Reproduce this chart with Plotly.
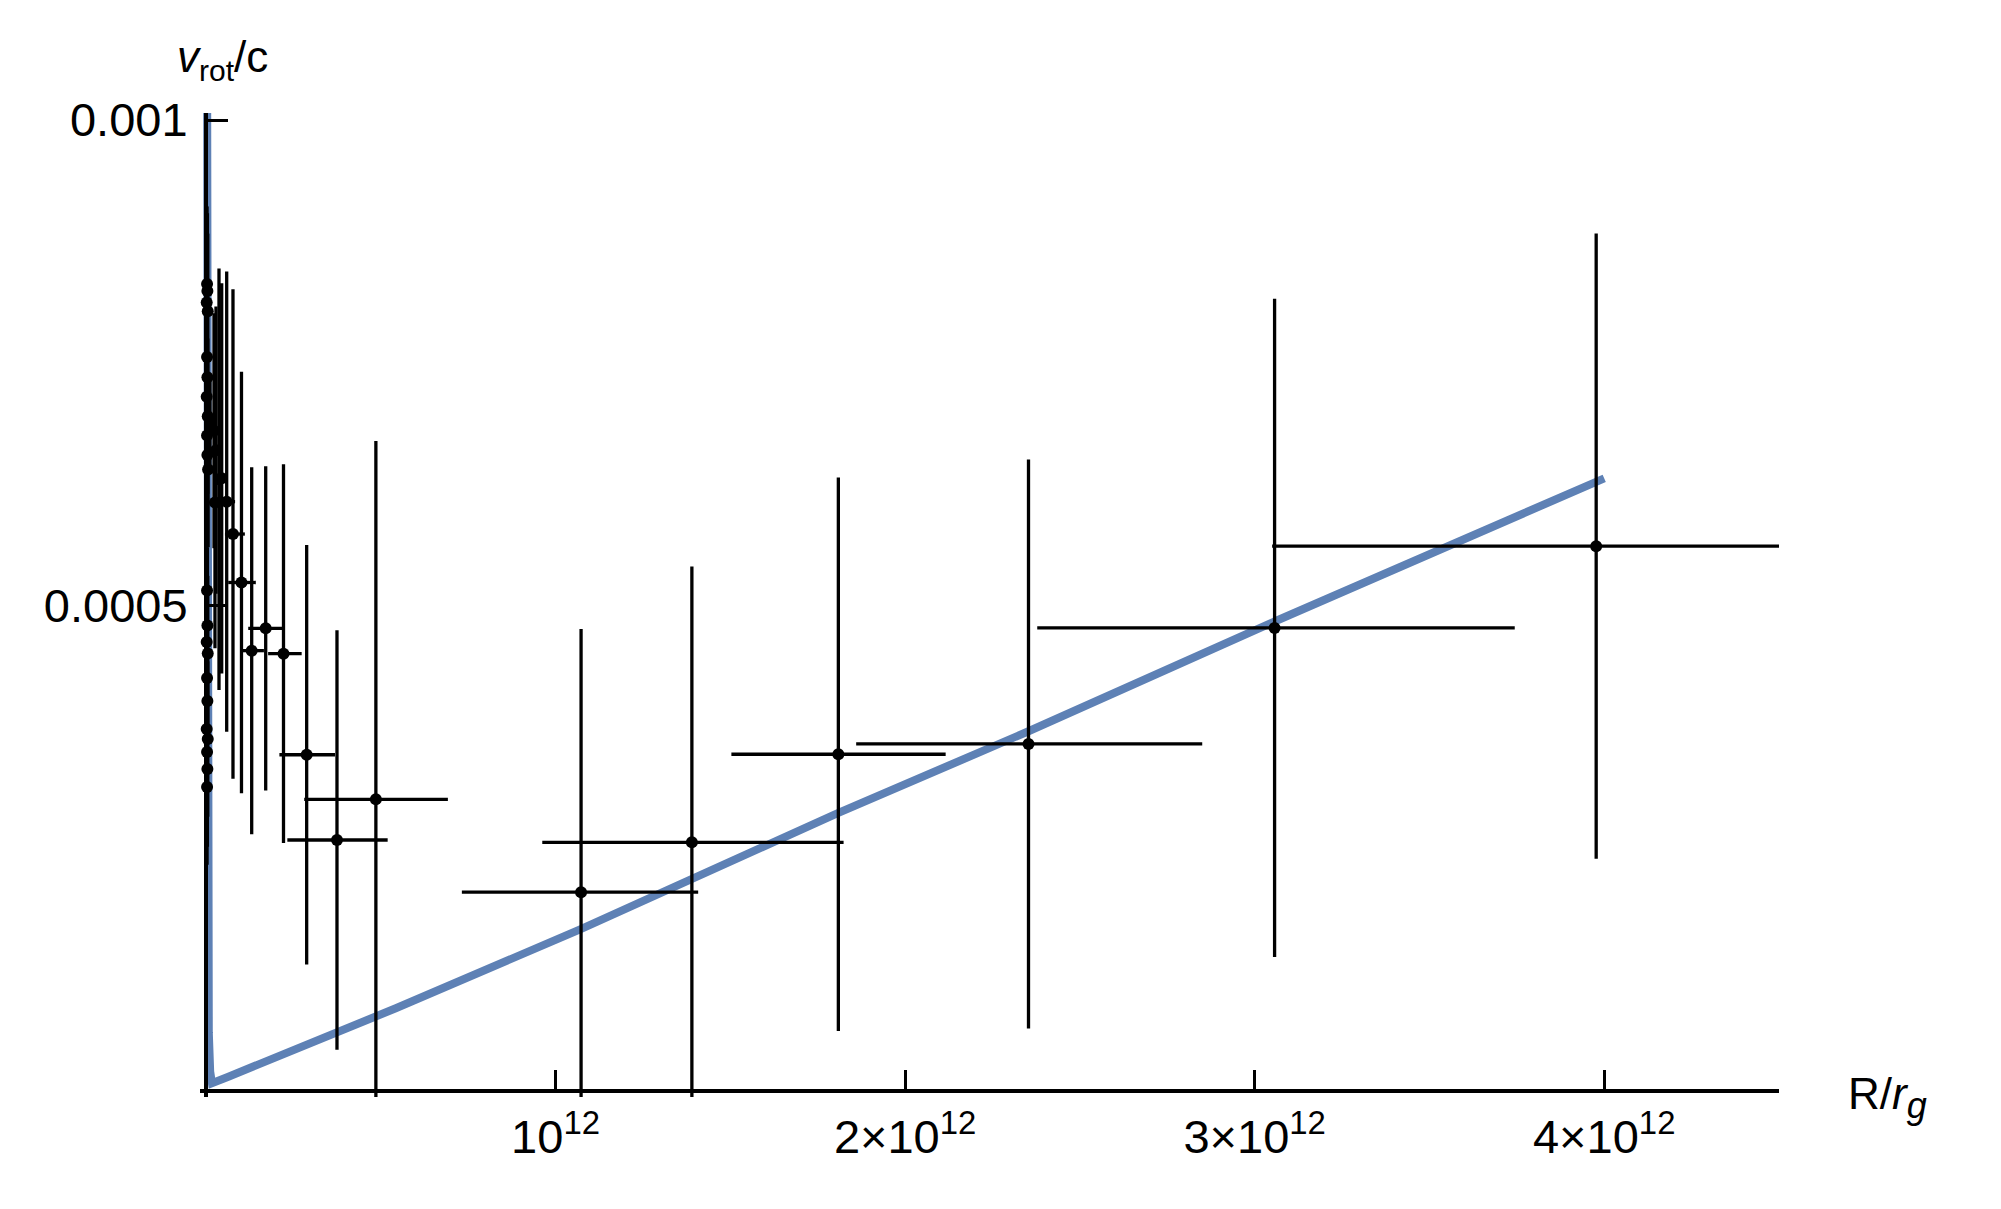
import plotly.graph_objects as go

# ---------------- data ----------------
# radius in units of 1e12 r_g, velocity in units of 1e-3 c
R_1E12 = [
    0.003, 0.004, 0.002, 0.005, 0.003, 0.004, 0.002, 0.005, 0.003, 0.004, 0.006,
    0.003, 0.004, 0.002, 0.005, 0.003, 0.004, 0.002, 0.005, 0.003, 0.004, 0.003,
    0.0114, 0.0229, 0.0286, 0.0257, 0.0372, 0.0449, 0.0592, 0.0772, 0.1015, 0.1307,
    0.1708, 0.2217, 0.288, 0.3747, 0.486,
    1.073, 1.390, 1.809, 2.353, 3.057, 3.977,
]
V_1E3 = [
    0.831, 0.824, 0.812, 0.803, 0.756, 0.735, 0.715, 0.695, 0.675, 0.655, 0.640,
    0.5155, 0.4795, 0.4625, 0.4505, 0.4253, 0.4016, 0.3727, 0.3625, 0.3491, 0.3316, 0.3130,
    0.69, 0.68, 0.66, 0.606, 0.630, 0.631, 0.6069, 0.5736, 0.5237, 0.4535,
    0.4765, 0.4504, 0.3463, 0.2585, 0.3004,
    0.2048, 0.2561, 0.3468, 0.3574, 0.4769, 0.5611,
]
R_ERR_MINUS = [
    0.001, 0.001, 0.001, 0.001, 0.001, 0.001, 0.001, 0.001, 0.001, 0.001, 0.001,
    0.001, 0.001, 0.001, 0.001, 0.001, 0.001, 0.001, 0.001, 0.001, 0.001, 0.001,
    0.006, 0.008, 0.008, 0.012, 0.010, 0.010, 0.025, 0.023, 0.038, 0.033,
    0.050, 0.044, 0.078, 0.142, 0.205,
    0.341, 0.428, 0.306, 0.493, 0.679, 0.927,
]
R_ERR_PLUS = [
    0.001, 0.001, 0.001, 0.001, 0.001, 0.001, 0.001, 0.001, 0.001, 0.001, 0.001,
    0.001, 0.001, 0.001, 0.001, 0.001, 0.001, 0.001, 0.001, 0.001, 0.001, 0.001,
    0.006, 0.008, 0.008, 0.012, 0.010, 0.010, 0.024, 0.034, 0.041, 0.035,
    0.047, 0.052, 0.081, 0.145, 0.206,
    0.335, 0.434, 0.307, 0.497, 0.687, 0.927,
]
V_ERR = [
    0.08, 0.08, 0.08, 0.08, 0.08, 0.08, 0.08, 0.08, 0.08, 0.08, 0.08,
    0.08, 0.08, 0.08, 0.08, 0.08, 0.08, 0.08, 0.08, 0.08, 0.08, 0.08,
    0.046, 0.121, 0.148, 0.150, 0.217, 0.201, 0.237, 0.252, 0.217, 0.189,
    0.167, 0.195, 0.216, 0.216, 0.369,
    0.271, 0.284, 0.285, 0.293, 0.339, 0.322,
]

# model curve
MODEL_R_1E12 = [0.0025, 0.004, 0.008, 0.012, 0.017, 0.064, 0.543, 1.072, 1.809, 2.353, 3.057, 4.0]
MODEL_V_1E3 = [1.2, 0.35, 0.06, 0.02, 0.008, 0.0147, 0.0852, 0.1667, 0.2864, 0.3705, 0.4835, 0.631]

X_TICK_VALS_1E12 = [1, 2, 3, 4]
X_TICK_TEXT = ["10<sup>12</sup>", "2×10<sup>12</sup>", "3×10<sup>12</sup>", "4×10<sup>12</sup>"]
Y_TICK_VALS = [0.0005, 0.001]
Y_TICK_TEXT = ["0.0005", "0.001"]

# ---------------- figure ----------------
FONT = "Liberation Sans, Arial, sans-serif"
BLUE = "#5E81B5"

x = [r * 1e12 for r in R_1E12]
y = [v * 1e-3 for v in V_1E3]
xm = [e * 1e12 for e in R_ERR_MINUS]
xp = [e * 1e12 for e in R_ERR_PLUS]
ye = [e * 1e-3 for e in V_ERR]

fig = go.Figure()
fig.add_trace(go.Scatter(
    x=[r * 1e12 for r in MODEL_R_1E12],
    y=[v * 1e-3 for v in MODEL_V_1E3],
    mode="lines",
    line=dict(color=BLUE, width=8),
    hoverinfo="skip",
))
fig.add_trace(go.Scatter(
    x=x, y=y, mode="markers",
    marker=dict(color="black", size=12),
    error_x=dict(type="data", symmetric=False, array=xp, arrayminus=xm,
                 color="black", thickness=3.3, width=0),
    error_y=dict(type="data", array=ye, color="black", thickness=3.3, width=0),
))

# page geometry (the html body adds an 8px offset)
OFF = 8
PAGE_W, PAGE_H = 2001, 1209
W, H = PAGE_W - OFF, PAGE_H - OFF
PL, PR, PT, PB = 200, 1779, 113, 1097          # plot area in page pixels
L, Rm, T, B = PL - OFF, PAGE_W - PR, PT - OFF, PAGE_H - PB
plot_w = PR - PL
plot_h = PB - PT
x0px = 206
xscale = 349.6  # px per 1e12
y0px = 1091
xmin = (PL - x0px) / xscale * 1e12
ymax = (y0px - PT) / 971 * 1e-3
ymin = (y0px - PB) / 971 * 1e-3


def px(xp_):
    return (xp_ - PL) / plot_w


def py(yp_):
    return (PB - yp_) / plot_h


fig.update_layout(
    width=W, height=H,
    margin=dict(l=L, r=Rm, t=T, b=B, pad=0),
    paper_bgcolor="white", plot_bgcolor="white",
    showlegend=False,
    font=dict(family=FONT, color="black"),
    xaxis=dict(
        range=[xmin, 4.5e12], anchor="free", position=py(y0px),
        showline=True, linecolor="black", linewidth=4,
        ticks="inside", ticklen=19, tickwidth=3, tickcolor="black",
        tickvals=[v * 1e12 for v in X_TICK_VALS_1E12], ticktext=X_TICK_TEXT,
        tickfont=dict(size=47, family=FONT, color="black"),
        ticklabelstandoff=4,
        showgrid=False, zeroline=False, layer="above traces",
    ),
    yaxis=dict(
        range=[ymin, ymax], anchor="free", position=px(x0px),
        showline=True, linecolor="black", linewidth=4,
        ticks="inside", ticklen=20, tickwidth=3, tickcolor="black",
        tickvals=Y_TICK_VALS, ticktext=Y_TICK_TEXT,
        tickfont=dict(size=47, family=FONT, color="black"),
        ticklabelstandoff=7,
        showgrid=False, zeroline=False, layer="above traces",
    ),
    annotations=[
        dict(text="<i>v</i><sub><span style='font-size:30px'>rot</span></sub>/c",
             xref="paper", yref="paper",
             x=px(175), y=py(60),
             xanchor="left", yanchor="middle", showarrow=False,
             font=dict(size=44, family=FONT, color="black")),
        dict(text="R/<i>r</i><sub><span style='font-size:36px'><i>g</i></span></sub>",
             xref="paper", yref="paper",
             x=px(1846), y=py(1097),
             xanchor="left", yanchor="middle", showarrow=False,
             font=dict(size=44, family=FONT, color="black")),
    ],
)

fig.write_html("out.html")
